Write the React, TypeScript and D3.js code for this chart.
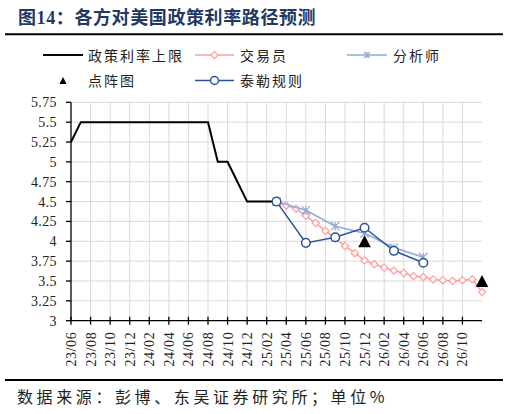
import React from 'react';
import * as d3 from 'd3';

// monthly categories 23/06 .. 26/12
const months = [
  '23/06', '23/07', '23/08', '23/09', '23/10', '23/11', '23/12',
  '24/01', '24/02', '24/03', '24/04', '24/05', '24/06', '24/07', '24/08', '24/09', '24/10', '24/11', '24/12',
  '25/01', '25/02', '25/03', '25/04', '25/05', '25/06', '25/07', '25/08', '25/09', '25/10', '25/11', '25/12',
  '26/01', '26/02', '26/03', '26/04', '26/05', '26/06', '26/07', '26/08', '26/09', '26/10', '26/11', '26/12',
];

const tickLabels = [
  '23/06', '23/08', '23/10', '23/12', '24/02', '24/04', '24/06', '24/08', '24/10', '24/12',
  '25/02', '25/04', '25/06', '25/08', '25/10', '25/12', '26/02', '26/04', '26/06', '26/08', '26/10',
];

const yTicks = [3, 3.25, 3.5, 3.75, 4, 4.25, 4.5, 4.75, 5, 5.25, 5.5, 5.75];

// 政策利率上限 23/06 - 25/03
const policyMonths = months.slice(0, 22);
const policyRate = [
  5.25, 5.5, 5.5, 5.5, 5.5, 5.5, 5.5, 5.5, 5.5, 5.5, 5.5, 5.5, 5.5, 5.5, 5.5,
  5.0, 5.0, 4.75, 4.5, 4.5, 4.5, 4.5,
];

// 交易员 25/03 - 26/12
const traderMonths = months.slice(21);
const traderRate = [
  4.5, 4.45, 4.41, 4.32, 4.23, 4.13, 4.04, 3.94, 3.85, 3.76, 3.71,
  3.67, 3.63, 3.6, 3.56, 3.55, 3.52, 3.51, 3.5, 3.51, 3.52, 3.36,
];

// 分析师 / 泰勒规则 (quarterly)
const quarterMonths = ['25/03', '25/06', '25/09', '25/12', '26/03', '26/06'];
const analystRate = [4.5, 4.39, 4.19, 4.1, 3.92, 3.8];
const taylorRate = [4.5, 3.98, 4.05, 4.17, 3.88, 3.73];

// 点阵图
const dotMonths = ['25/12', '26/12'];
const dotRate = [4.0, 3.5];

const W = 510;
const H = 414;
const serif = '"Liberation Serif", "Times New Roman", serif';
const cjk = '"Noto Sans CJK SC", "Liberation Serif", sans-serif';

const PINK = '#ff9c9c';
const LIGHTBLUE = '#8faadc';
const NAVY = '#2f5597';

const x = d3.scaleLinear().domain([0, months.length - 1]).range([71, 482]);
const y = d3.scaleLinear().domain([3, 5.75]).range([320.7, 102.3]);
const xm = (m: string) => x(months.indexOf(m));

const diamond = (cx: number, cy: number, r = 3.6) =>
  `M${cx},${cy - r}L${cx + r},${cy}L${cx},${cy + r}L${cx - r},${cy}Z`;
const star = (cx: number, cy: number, r = 4.2) =>
  `M${cx - r},${cy - r}L${cx + r},${cy + r}M${cx - r},${cy + r}L${cx + r},${cy - r}M${cx},${cy - r}L${cx},${cy + r}`;
const triangle = (cx: number, cy: number, w = 6.3, h = 12) =>
  `M${cx},${cy - h / 2}L${cx + w},${cy + h / 2}L${cx - w},${cy + h / 2}Z`;

const App: React.FC = () => {
  const line = d3.line<[number, number]>().x((d) => d[0]).y((d) => d[1]);
  const pts = (ms: string[], vs: number[]) => ms.map((m, i) => [xm(m), y(vs[i])] as [number, number]);

  const policyPts = pts(policyMonths, policyRate);
  const traderPts = pts(traderMonths, traderRate);
  const analystPts = pts(quarterMonths, analystRate);
  const taylorPts = pts(quarterMonths, taylorRate);
  const dotPts = pts(dotMonths, dotRate);

  const [x0, x1] = x.range();

  return (
    <svg width={W} height={H} style={{ position: 'absolute', left: 0, top: 0, background: '#fff' }}>
      {/* title */}
      <text x={18} y={24} fontSize={18} fontWeight="bold" fill="#1f3864" fontFamily={cjk} letterSpacing={0.6}>
        图<tspan fontFamily={serif}>14</tspan>：各方对美国政策利率路径预测
      </text>
      <line x1={5} x2={503} y1={34.3} y2={34.3} stroke="#000" strokeWidth={2} />

      {/* legend */}
      <g fontFamily={cjk} fontSize={14} fill="#222" letterSpacing={2}>
        <line x1={43} x2={83} y1={55} y2={55} stroke="#000" strokeWidth={2} />
        <text x={88} y={60.5}>政策利率上限</text>

        <line x1={195} x2={234} y1={55} y2={55} stroke={PINK} strokeWidth={1.5} />
        <path d={diamond(214.5, 55)} fill="#fff" stroke={PINK} strokeWidth={1.2} />
        <text x={240} y={60.5}>交易员</text>

        <line x1={347} x2={387} y1={55} y2={55} stroke={LIGHTBLUE} strokeWidth={1.5} />
        <path d={star(367, 55, 3)} fill="none" stroke={LIGHTBLUE} strokeWidth={1.2} />
        <text x={393} y={60.5}>分析师</text>

        <path d={triangle(63, 80.5, 3.6, 7)} fill="#000" />
        <text x={88} y={86}>点阵图</text>

        <line x1={195} x2={234} y1={80.5} y2={80.5} stroke={NAVY} strokeWidth={1.5} />
        <circle cx={214.5} cy={80.5} r={4} fill="#fff" stroke={NAVY} strokeWidth={1.5} />
        <text x={240} y={86}>泰勒规则</text>
      </g>

      {/* grid */}
      <g stroke="#d9d9d9" strokeWidth={1}>
        {yTicks.slice(1).map((t) => (
          <line key={`h${t}`} x1={x0} x2={x1} y1={y(t)} y2={y(t)} />
        ))}
        {tickLabels.slice(1).map((m) => (
          <line key={`v${m}`} x1={xm(m)} x2={xm(m)} y1={y(5.75)} y2={y(3)} />
        ))}
      </g>

      {/* axes */}
      <g stroke="#000" strokeWidth={1.3}>
        <line x1={x0} x2={x0} y1={y(5.75)} y2={y(3)} />
        <line x1={x0} x2={x1} y1={y(3)} y2={y(3)} />
        {yTicks.map((t) => (
          <line key={`yt${t}`} x1={x0 - 5} x2={x0} y1={y(t)} y2={y(t)} />
        ))}
        {tickLabels.map((m) => (
          <line key={`xt${m}`} x1={xm(m)} x2={xm(m)} y1={y(3) - 4} y2={y(3) + 4} />
        ))}
      </g>
      <g fontFamily={serif} fontSize={14} fill="#222">
        {yTicks.map((t) => (
          <text key={`yl${t}`} x={57} y={y(t) + 5} textAnchor="end" letterSpacing={0.4}>
            {String(t)}
          </text>
        ))}
        {tickLabels.map((m) => (
          <text
            key={`xl${m}`}
            transform={`translate(${xm(m) + 5},${y(3) + 11}) rotate(-90)`}
            textAnchor="end"
            letterSpacing={0.6}
          >
            {m}
          </text>
        ))}
      </g>

      {/* series */}
      <path d={line(policyPts) ?? ''} fill="none" stroke="#000" strokeWidth={2} />

      <path d={line(traderPts) ?? ''} fill="none" stroke={PINK} strokeWidth={1.5} />
      {traderPts.map(([px, py], i) => (
        <path key={`tr${i}`} d={diamond(px, py)} fill="#fff" stroke={PINK} strokeWidth={1.2} />
      ))}

      <path d={line(analystPts) ?? ''} fill="none" stroke={LIGHTBLUE} strokeWidth={1.6} />
      {analystPts.map(([px, py], i) => (
        <path key={`an${i}`} d={star(px, py)} fill="none" stroke={LIGHTBLUE} strokeWidth={1.2} />
      ))}

      {dotPts.map(([px, py], i) => (
        <path key={`dp${i}`} d={triangle(px, py)} fill="#000" />
      ))}

      <path d={line(taylorPts) ?? ''} fill="none" stroke={NAVY} strokeWidth={1.5} />
      {taylorPts.map(([px, py], i) => (
        <circle key={`ty${i}`} cx={px} cy={py} r={4.3} fill="#fff" stroke={NAVY} strokeWidth={1.5} />
      ))}

      {/* footer */}
      <line x1={5} x2={503} y1={380} y2={380} stroke="#000" strokeWidth={2} />
      <text x={17} y={403} fontFamily={cjk} fontSize={16} fill="#222" letterSpacing={3.6}>
        数据来源：彭博、东吴证券研究所；单位%
      </text>
    </svg>
  );
};

export default App;
